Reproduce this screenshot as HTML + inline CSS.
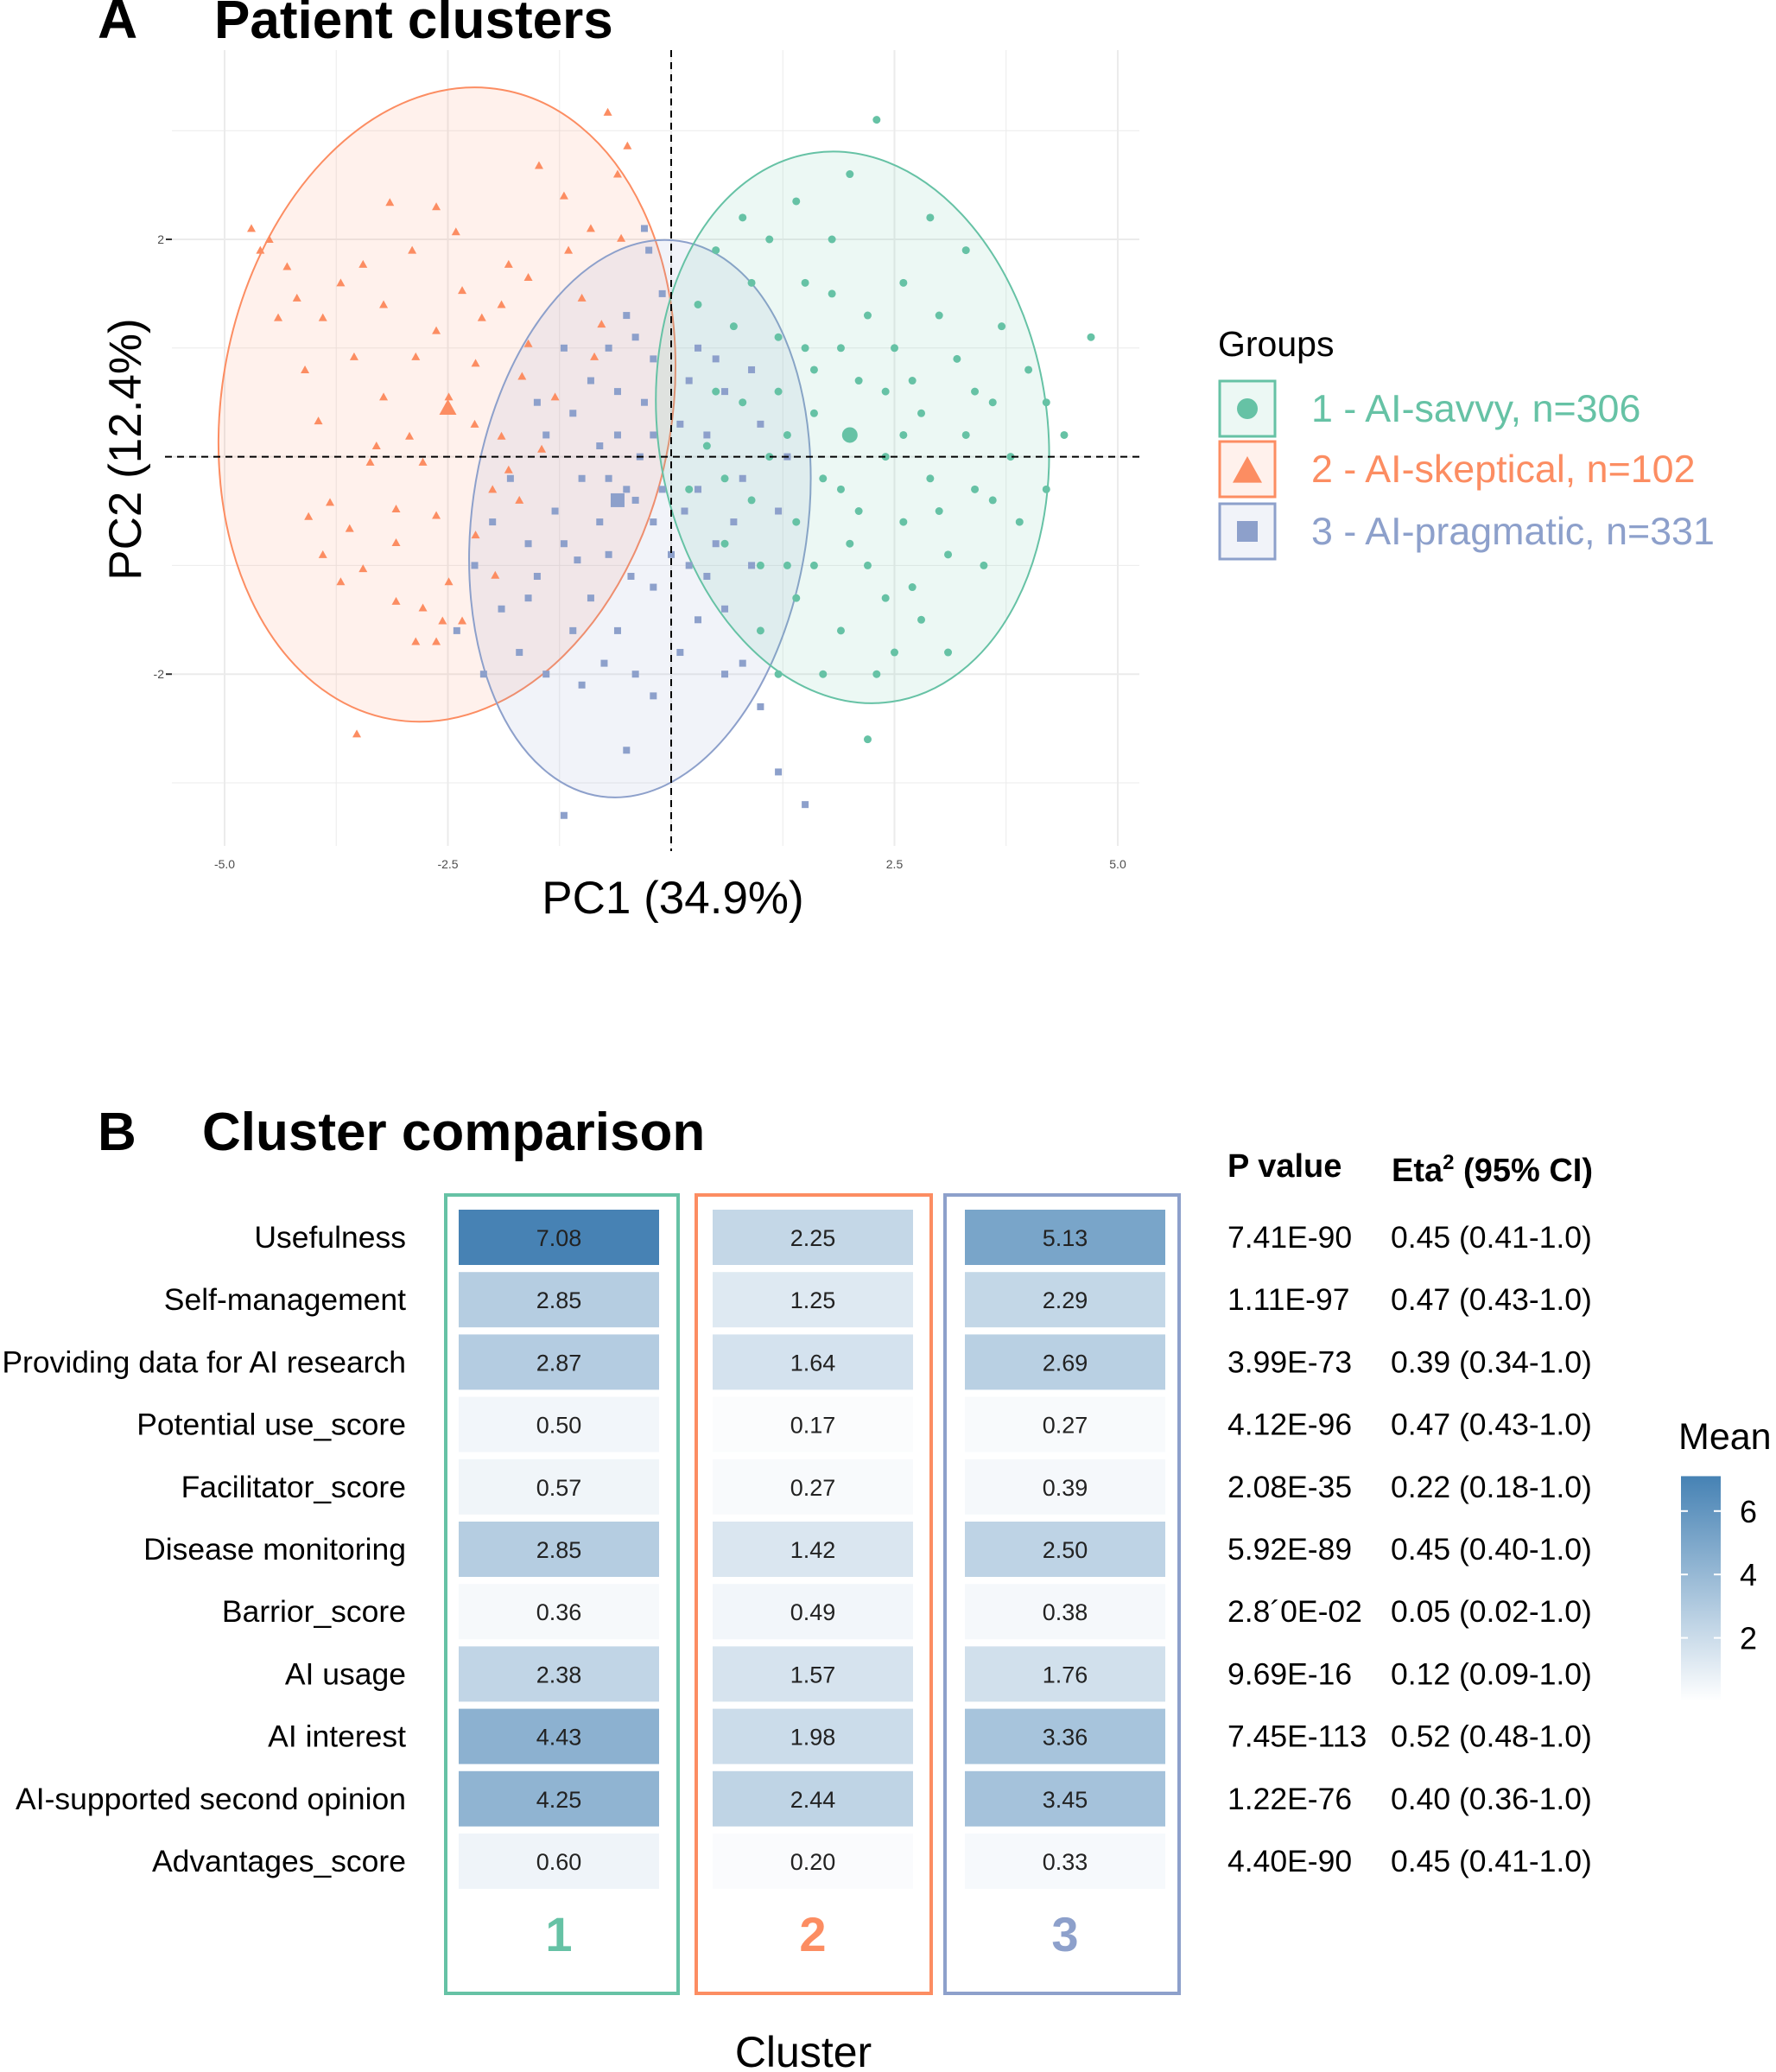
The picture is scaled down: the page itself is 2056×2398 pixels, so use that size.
<!DOCTYPE html>
<html><head><meta charset="utf-8"><style>
body{margin:0;background:#fff;}
svg{display:block;font-family:"Liberation Sans",Arial,sans-serif;}
</style></head><body>
<svg id="fig" width="2056" height="2398" viewBox="0 0 2056 2398" xmlns="http://www.w3.org/2000/svg">
<g id="panelA"></g>
<g id="panelB"></g>
</svg>
<script>
// ===== Panel A data =====
const xTicks = [-5.0, -2.5, 2.5, 5.0];
const xTickLabels = ["-5.0", "-2.5", "2.5", "5.0"];
const yTicks = [2, -2];
const yTickLabels = ["2", "-2"];
const groupNames = ["1 - AI-savvy, n=306", "2 - AI-skeptical, n=102", "3 - AI-pragmatic, n=331"];
// ellipses: [cx, cy, semi-x, semi-y, rotation deg] in data units
const ellipseSavvy = [2.03, 0.27, 2.18, 2.55, -8];
const ellipseSkeptical = [-2.51, 0.48, 2.52, 2.94, 10];
const ellipsePragmatic = [-0.35, -0.57, 1.88, 2.58, 8];
const centroidSavvy = [2.0, 0.2];
const centroidSkeptical = [-2.5, 0.45];
const centroidPragmatic = [-0.6, -0.4];
const pointsSkeptical = [[-4.7,2.1],[-4.5,2.0],[-4.3,1.75],[-4.4,1.28],[-3.9,1.28],[-3.55,0.92],[-3.95,0.33],[-4.06,-0.55],[-3.9,-0.9],[-3.7,-1.15],[-3.08,-1.33],[-2.86,-1.7],[-2.56,-1.51],[-3.52,-2.55],[-3.15,2.34],[-2.63,2.3],[-1.48,2.68],[-0.71,3.17],[-0.49,2.86],[-1.15,1.9],[-1.6,1.65],[-2.34,1.53],[-2.63,1.16],[-2.49,0.55],[-2.93,0.19],[-3.37,-0.05],[-2.63,-0.54],[-2.19,-0.72],[-1.97,-1.09],[-1.9,0.19],[-1.3,0.55],[-0.86,0.92],[-1.6,1.04],[-2.19,0.86],[-3.22,0.55],[-3.82,-0.42],[-3.6,-0.66],[-3.08,-0.79],[-2.49,-1.15],[-2.34,-1.51],[-1.82,-0.12],[-1.45,0.07],[-1.0,1.46],[-0.56,2.01],[-0.78,1.22],[-4.19,1.46],[-3.45,1.77],[-3.22,1.4],[-2.86,0.92],[-2.12,1.28],[-1.82,1.77],[-2.41,2.07],[-1.9,1.4],[-1.67,0.74],[-2.78,-0.05],[-3.08,-0.48],[-3.45,-1.03],[-2.78,-1.39],[-2.63,-1.7],[-4.6,1.9],[-4.1,0.8],[-3.3,0.1],[-2.2,0.3],[-1.7,-0.4],[-2.0,-0.3],[-1.2,2.4],[-0.6,2.6],[-0.9,2.1],[-2.9,1.9],[-3.7,1.6]];
const pointsPragmatic = [[-0.3,2.1],[-0.25,1.9],[-0.1,1.5],[-0.5,1.3],[-0.7,1.0],[-0.2,0.9],[0.3,1.0],[0.6,0.6],[1.0,0.3],[0.8,-0.2],[1.2,-0.5],[0.5,-0.8],[0.2,-1.0],[-0.2,-0.6],[-0.5,-0.3],[-0.8,0.1],[-1.1,0.4],[-1.4,0.2],[-1.8,-0.2],[-2.0,-0.6],[-2.2,-1.0],[-2.4,-1.6],[-1.9,-1.4],[-1.5,-1.1],[-1.2,-0.8],[-0.9,-1.3],[-0.6,-1.6],[-0.4,-2.0],[-0.2,-2.2],[0.1,-1.8],[0.3,-1.5],[0.6,-1.4],[0.8,-1.9],[1.0,-2.3],[1.2,-2.9],[1.5,-3.2],[-1.2,-3.3],[-0.5,-2.7],[-1.0,-2.1],[-1.4,-2.0],[-0.7,-0.9],[-0.1,-0.3],[0.1,0.3],[0.4,0.2],[0.7,-0.6],[-0.3,0.5],[-0.6,0.6],[-1.0,-0.2],[-1.3,-0.5],[-1.6,-0.8],[-0.8,-0.6],[-0.2,-1.2],[0.4,-1.1],[0.9,-1.0],[1.3,0.0],[0.2,0.7],[-0.4,1.1],[-0.9,0.7],[-1.2,1.0],[-0.6,0.2],[-0.4,-0.4],[0.0,-0.9],[-1.7,-1.8],[-2.1,-2.0],[-1.1,-1.6],[0.5,0.9],[-0.2,0.2],[-0.7,-0.2],[-1.5,0.5],[0.9,0.8],[-0.45,-1.1],[0.15,-0.5],[-1.05,-0.95],[-0.35,0.0],[0.3,-0.3],[-0.75,-1.9],[0.6,-2.0],[-1.6,-1.3]];
const pointsSavvy = [[2.3,3.1],[2.0,2.6],[1.4,2.35],[1.1,2.0],[0.5,1.9],[0.9,1.6],[1.8,1.5],[2.6,1.6],[3.3,1.9],[3.7,1.2],[4.7,1.1],[4.4,0.2],[4.2,-0.3],[3.9,-0.6],[3.6,0.5],[3.2,0.9],[2.8,0.4],[2.4,0.6],[2.0,0.2],[1.6,0.8],[1.2,1.1],[0.8,0.5],[0.4,0.1],[0.2,-0.3],[0.6,-0.8],[1.0,-1.0],[1.4,-1.3],[1.9,-1.6],[2.3,-2.0],[2.7,-1.2],[3.1,-0.9],[3.4,-0.3],[2.9,-0.2],[2.1,-0.5],[1.7,-0.2],[1.3,0.2],[1.9,1.0],[2.5,1.0],[3.0,1.3],[2.2,1.3],[1.5,1.6],[0.7,1.2],[1.1,0.0],[0.9,-0.4],[2.6,-0.6],[3.8,0.0],[4.0,0.8],[3.5,-1.0],[2.8,-1.5],[2.2,-1.0],[1.7,-2.0],[1.2,-2.0],[1.0,-1.6],[2.2,-2.6],[2.4,0.0],[1.6,0.4],[2.0,-0.8],[3.3,0.2],[2.7,0.7],[1.4,-0.6],[0.5,0.6],[0.3,1.4],[1.8,2.0],[2.9,2.2],[3.6,-0.4],[4.2,0.5],[0.8,2.2],[1.3,-1.0],[2.5,-1.8],[3.1,-1.8],[1.5,1.0],[2.1,0.7],[2.6,0.2],[3.0,-0.5],[1.9,-0.3],[1.2,0.6],[0.6,-0.2],[3.4,0.6],[2.4,-1.3],[1.6,-1.0]];

// ===== Panel B data =====
const rowLabels = ["Usefulness","Self-management","Providing data for AI research","Potential use_score","Facilitator_score","Disease monitoring","Barrior_score","AI usage","AI interest","AI-supported second opinion","Advantages_score"];
const cluster1 = [7.08,2.85,2.87,0.50,0.57,2.85,0.36,2.38,4.43,4.25,0.60];
const cluster2 = [2.25,1.25,1.64,0.17,0.27,1.42,0.49,1.57,1.98,2.44,0.20];
const cluster3 = [5.13,2.29,2.69,0.27,0.39,2.50,0.38,1.76,3.36,3.45,0.33];
const pValues = ["7.41E-90","1.11E-97","3.99E-73","4.12E-96","2.08E-35","5.92E-89","2.8\u00B40E-02","9.69E-16","7.45E-113","1.22E-76","4.40E-90"];
const etaValues = ["0.45 (0.41-1.0)","0.47 (0.43-1.0)","0.39 (0.34-1.0)","0.47 (0.43-1.0)","0.22 (0.18-1.0)","0.45 (0.40-1.0)","0.05 (0.02-1.0)","0.12 (0.09-1.0)","0.52 (0.48-1.0)","0.40 (0.36-1.0)","0.45 (0.41-1.0)"];
const meanTicks = [6,4,2];

const NS="http://www.w3.org/2000/svg";
const COLS=["#66C2A5","#FC8D62","#8DA0CB"];
function mk(parent,tag,attrs,text){const e=document.createElementNS(NS,tag);for(const k in attrs)e.setAttribute(k,attrs[k]);if(text!==undefined)e.textContent=text;parent.appendChild(e);return e;}

// ---------- Panel A ----------
const A=document.getElementById('panelA');
const X0=777, XS=103.4, Y0=528.6, YS=125.8;
const sx=v=>X0+v*XS, sy=v=>Y0-v*YS;
let t;
t=mk(A,'text',{x:113,y:44,'font-size':64,'font-weight':'bold'},'A');

t=mk(A,'text',{x:248,y:44,'font-size':62,'font-weight':'bold'},'Patient clusters');

const grid=mk(A,'g',{});

for(let v=-5;v<=5.01;v+=1.25){mk(grid,'line',{x1:sx(v),x2:sx(v),y1:58,y2:979,stroke:'#EBEBEB','stroke-width':v%2.5===0?2:1});}
for(let v=-3;v<=3;v++){mk(grid,'line',{x1:199,x2:1319,y1:sy(v),y2:sy(v),stroke:'#EBEBEB','stroke-width':v%2===0?2:1});}
function ell(p,c,name){const e=mk(A,'ellipse',{cx:sx(p[0]),cy:sy(p[1]),rx:p[2]*XS,ry:p[3]*YS,fill:c,'fill-opacity':0.12,stroke:c,'stroke-width':2,transform:`rotate(${p[4]} ${sx(p[0])} ${sy(p[1])})`});
}
ell(ellipseSkeptical,COLS[1],'ellipse-ai-skeptical');
ell(ellipsePragmatic,COLS[2],'ellipse-ai-pragmatic');
ell(ellipseSavvy,COLS[0],'ellipse-ai-savvy');
function tri(g,x,y,s,c){return mk(g,'polygon',{points:`${x},${y-s} ${x-s},${y+s*0.8} ${x+s},${y+s*0.8}`,fill:c});}
const gO=mk(A,'g',{});
pointsSkeptical.forEach(p=>{const e=tri(gO,sx(p[0]),sy(p[1]),5,COLS[1]);});
const gB=mk(A,'g',{});
pointsPragmatic.forEach(p=>{const e=mk(gB,'rect',{x:sx(p[0])-4,y:sy(p[1])-4,width:8,height:8,fill:COLS[2]});});
const gG=mk(A,'g',{});
pointsSavvy.forEach(p=>{const e=mk(gG,'circle',{cx:sx(p[0]),cy:sy(p[1]),r:4.5,fill:COLS[0]});});
t=tri(A,sx(centroidSkeptical[0]),sy(centroidSkeptical[1]),10,COLS[1]);
t=mk(A,'rect',{x:sx(centroidPragmatic[0])-8,y:sy(centroidPragmatic[1])-8,width:16,height:16,fill:COLS[2]});
t=mk(A,'circle',{cx:sx(centroidSavvy[0]),cy:sy(centroidSavvy[1]),r:9,fill:COLS[0]});
t=mk(A,'line',{x1:sx(0),x2:sx(0),y1:58,y2:985,stroke:'#000','stroke-width':2,'stroke-dasharray':'8,6'});
t=mk(A,'line',{x1:191,x2:1319,y1:sy(0),y2:sy(0),stroke:'#000','stroke-width':2,'stroke-dasharray':'8,6'});
xTicks.forEach((v,i)=>{const e=mk(A,'text',{x:sx(v),y:1005,'font-size':14,fill:'#4d4d4d','text-anchor':'middle'},xTickLabels[i]);});
yTicks.forEach((v,i)=>{const e=mk(A,'text',{x:190,y:sy(v)+5,'font-size':14,fill:'#4d4d4d','text-anchor':'end'},yTickLabels[i]);
mk(A,'line',{x1:192,x2:199,y1:sy(v),y2:sy(v),stroke:'#333','stroke-width':2});});
t=mk(A,'text',{x:779,y:1057,'font-size':53,'text-anchor':'middle'},'PC1 (34.9%)');
t=mk(A,'text',{x:0,y:0,'font-size':53,'text-anchor':'middle',transform:'translate(163,520) rotate(-90)'},'PC2 (12.4%)');
// legend
t=mk(A,'text',{x:1410,y:412,'font-size':41},'Groups');
const legY=[473,543,615];
groupNames.forEach((n,i)=>{
  const g=mk(A,'g',{});
  mk(g,'rect',{x:1412,y:legY[i]-32,width:64,height:64,fill:COLS[i],'fill-opacity':0.12,stroke:COLS[i],'stroke-width':3});
  if(i===0)mk(g,'circle',{cx:1444,cy:legY[i],r:12,fill:COLS[0]});
  if(i===1)tri(g,1444,legY[i]+2,17,COLS[1]);
  if(i===2)mk(g,'rect',{x:1432,y:legY[i]-12,width:24,height:24,fill:COLS[2]});
  mk(g,'text',{x:1518,y:legY[i]+15,'font-size':44.8,fill:COLS[i]},n);
});

// ---------- Panel B ----------
const B=document.getElementById('panelB');
t=mk(B,'text',{x:113,y:1331,'font-size':62,'font-weight':'bold'},'B');
t=mk(B,'text',{x:234,y:1331,'font-size':62,'font-weight':'bold'},'Cluster comparison');
const colX=[531,825,1117], tileW=232, tileH=64, rowY0=1400, rowP=72.2, VMAX=7.1;
function color(v){const f=Math.min(1,Math.max(0,v/VMAX));const r=Math.round(255-f*(255-70)),g=Math.round(255-f*(255-130)),b=Math.round(255-f*(255-180));return `rgb(${r},${g},${b})`;}
const boxes=[[516,785],[806,1078],[1094,1365]];
[cluster1,cluster2,cluster3].forEach((arr,c)=>{
  const g=mk(B,'g',{});
  arr.forEach((v,r)=>{
    const y=rowY0+r*rowP;
    const e=mk(g,'rect',{x:colX[c],y:y,width:tileW,height:tileH,fill:color(v)});
    
    mk(g,'text',{x:colX[c]+tileW/2,y:y+tileH/2+10,'font-size':27,'text-anchor':'middle',fill:'#222'},v.toFixed(2));
  });
  const bx=mk(B,'rect',{x:boxes[c][0],y:1383,width:boxes[c][1]-boxes[c][0],height:924,fill:'none',stroke:COLS[c],'stroke-width':4});
  
  const l=mk(B,'text',{x:colX[c]+tileW/2,y:2258,'font-size':56,'font-weight':'bold','text-anchor':'middle',fill:COLS[c]},String(c+1));
  
});
rowLabels.forEach((n,r)=>{const y=rowY0+r*rowP+tileH/2+12;
  const e=mk(B,'text',{x:470,y:y,'font-size':35.5,'text-anchor':'end'},n);
  const p=mk(B,'text',{x:1421,y:y,'font-size':35.5},pValues[r]);
  const q=mk(B,'text',{x:1610,y:y,'font-size':35.5},etaValues[r]);
});
t=mk(B,'text',{x:1421,y:1362,'font-size':38,'font-weight':'bold'},'P value');
t=mk(B,'text',{x:1611,y:1367,'font-size':38,'font-weight':'bold'});
t.innerHTML='Eta<tspan font-size="24" dy="-14">2</tspan><tspan dy="14"> (95% CI)</tspan>';
t=mk(B,'text',{x:930,y:2392,'font-size':50,'text-anchor':'middle'},'Cluster');
// colorbar
t=mk(B,'text',{x:1943,y:1677,'font-size':43},'Mean');
const defs=mk(B,'defs',{});const lg=mk(defs,'linearGradient',{id:'cb',x1:0,y1:1,x2:0,y2:0});
mk(lg,'stop',{offset:'0','stop-color':'#ffffff'});mk(lg,'stop',{offset:'1','stop-color':'#4682B4'});
const CB0=1969, CBS=36.7;
t=mk(B,'rect',{x:1946,y:CB0-VMAX*CBS,width:46,height:VMAX*CBS,fill:'url(#cb)'});
meanTicks.forEach(v=>{const y=CB0-v*CBS;mk(B,'line',{x1:1946,x2:1954,y1:y,y2:y,stroke:'#fff','stroke-width':2});mk(B,'line',{x1:1984,x2:1992,y1:y,y2:y,stroke:'#fff','stroke-width':2});
const e=mk(B,'text',{x:2014,y:y+13,'font-size':36},String(v));});
</script>
</body></html>
